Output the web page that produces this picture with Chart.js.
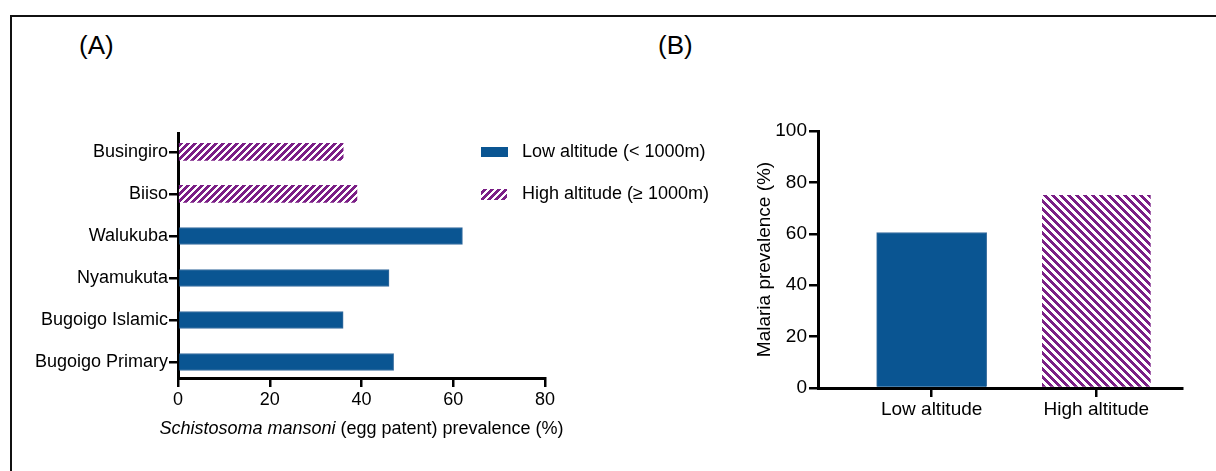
<!DOCTYPE html>
<html>
<head>
<meta charset="utf-8">
<script src="https://cdn.jsdelivr.net/npm/chart.js@4.4.1/dist/chart.umd.min.js"></script>
<style>
  body { margin: 0; background: #fff; }
  #wrap { position: relative; width: 1216px; height: 471px; overflow: hidden; font-family: "Liberation Sans", Arial, sans-serif; }
  #frame { position: absolute; left: 10px; top: 15px; width: 1300px; height: 600px; border-top: 2px solid #111; border-left: 2px solid #111; }
  .panel { position: absolute; top: 30px; font-size: 26px; color: #000; }
  #cA { position: absolute; left: 0; top: 0; }
  #cB { position: absolute; left: 600px; top: 0; }
</style>
</head>
<body>
<div id="wrap">
  <div id="frame"></div>
  <div class="panel" style="left:79px">(A)</div>
  <div class="panel" style="left:658px">(B)</div>
  <canvas id="cB" width="616" height="471"></canvas>
  <canvas id="cA" width="760" height="471"></canvas>
</div>
<script>
// panel A: schisto prevalence by school
var sites = ['Busingiro', 'Biiso', 'Walukuba', 'Nyamukuta', 'Bugoigo Islamic', 'Bugoigo Primary'];
var lowA = [null, null, 62, 46, 36, 47];
var highA = [36, 39, null, null, null, null];
var xTicksA = [0, 20, 40, 60, 80];
var legendA = ['Low altitude (< 1000m)', 'High altitude (\u2265 1000m)'];

// panel B: malaria prevalence
var groupsB = ['Low altitude', 'High altitude'];
var malaria = [60.5, 75.4];
var yTicksB = [0, 20, 40, 60, 80, 100];

var BLUE = '#0a5592';
var PURPLE = '#7b1f86';
var FONT = '"Liberation Sans", Arial, sans-serif';

Chart.defaults.font.family = FONT;
Chart.defaults.color = '#000';

function hatch(period, width, dir) {
    var c = document.createElement('canvas');
    c.width = c.height = period;
    var g = c.getContext('2d');
    var img = g.createImageData(period, period);
    for (var y = 0; y < period; y++) {
        for (var x = 0; x < period; x++) {
            var k = dir > 0 ? (x + y) % period : ((x - y) % period + period) % period;
            var i = (y * period + x) * 4;
            var on = k < width;
            img.data[i] = on ? 0x7b : 255;
            img.data[i + 1] = on ? 0x1f : 255;
            img.data[i + 2] = on ? 0x86 : 255;
            img.data[i + 3] = 255;
        }
    }
    g.putImageData(img, 0, 0);
    return g.createPattern(c, 'repeat');
}

var hatchA = hatch(7, 4, 1);
var hatchB = hatch(8, 4, -1);

function toPoints(vals) {
    var out = [];
    vals.forEach(function (v, i) { if (v != null) out.push({ x: v, y: i }); });
    return out;
}

var axisGrid = { drawOnChartArea: false, offset: false, color: '#000', lineWidth: 2.5, tickLength: 9 };
var axisBorder = { color: '#000', width: 3 };

var extrasA = {
    id: 'extrasA',
    afterDraw: function (chart) {
        var ctx = chart.ctx;
        ctx.save();
        // legend
        ctx.fillStyle = BLUE;
        ctx.fillRect(481, 147, 27, 10);
        ctx.fillStyle = hatchA;
        ctx.fillRect(481, 189, 26, 11);
        ctx.fillStyle = '#000';
        ctx.font = '18px ' + FONT;
        ctx.textBaseline = 'middle';
        ctx.fillText(legendA[0], 522, 152);
        ctx.fillText(legendA[1], 522, 194);
        // axis title with italic species name
        var it = 'Schistosoma mansoni';
        var rest = ' (egg patent) prevalence (%)';
        ctx.font = 'italic 18px ' + FONT;
        var w1 = ctx.measureText(it).width;
        ctx.font = '18px ' + FONT;
        var w2 = ctx.measureText(rest).width;
        var cx = (chart.chartArea.left + chart.chartArea.right) / 2;
        var x0 = cx - (w1 + w2) / 2;
        ctx.font = 'italic 18px ' + FONT;
        ctx.fillText(it, x0, 429);
        ctx.font = '18px ' + FONT;
        ctx.fillText(rest, x0 + w1, 429);
        ctx.restore();
    }
};

new Chart(document.getElementById('cA').getContext('2d'), {
    type: 'bar',
    data: {
        datasets: [
            { data: toPoints(lowA), backgroundColor: BLUE, borderColor: '#3b6fa0', borderWidth: 1 },
            { data: toPoints(highA), backgroundColor: hatchA, borderWidth: 0 }
        ]
    },
    options: {
        indexAxis: 'y',
        responsive: false,
        animation: false,
        events: [],
        grouped: false,
        barThickness: 17,
        layout: { padding: { left: 0, top: 133, right: 215, bottom: 33 } },
        plugins: { legend: { display: false }, tooltip: { enabled: false } },
        scales: {
            x: {
                type: 'linear', min: 0, max: 80,
                afterBuildTicks: function (s) { s.ticks = xTicksA.map(function (v) { return { value: v }; }); },
                afterFit: function (s) { s.height = 60; },
                grid: axisGrid, border: axisBorder,
                ticks: { font: { size: 18 }, padding: 2, maxRotation: 0 }
            },
            y: {
                type: 'linear', reverse: true, min: -0.45, max: 5.38, offset: false,
                afterBuildTicks: function (s) { s.ticks = sites.map(function (c, i) { return { value: i }; }); },
                afterFit: function (s) { s.width = 178; },
                grid: axisGrid, border: axisBorder,
                ticks: { font: { size: 18 }, padding: 1, callback: function (v) { return sites[v]; } }
            }
        }
    },
    plugins: [extrasA]
});

new Chart(document.getElementById('cB').getContext('2d'), {
    type: 'bar',
    data: {
        datasets: [{
            data: malaria.map(function (v, i) { return { x: i, y: v }; }),
            backgroundColor: [BLUE, hatchB],
            borderColor: ['#3b6fa0', 'rgba(0,0,0,0)'],
            borderWidth: 1
        }]
    },
    options: {
        responsive: false,
        animation: false,
        events: [],
        barThickness: 110,
        layout: { padding: { left: 149, top: 131, right: 34, bottom: 33 } },
        plugins: { legend: { display: false }, tooltip: { enabled: false } },
        scales: {
            x: {
                type: 'linear', min: -0.69, max: 1.52, offset: false,
                afterBuildTicks: function (s) { s.ticks = groupsB.map(function (c, i) { return { value: i }; }); },
                afterFit: function (s) { s.height = 50; },
                grid: axisGrid, border: axisBorder,
                ticks: { font: { size: 19 }, padding: 1, maxRotation: 0, callback: function (v) { return groupsB[v]; } }
            },
            y: {
                type: 'linear', min: 0, max: 100,
                afterBuildTicks: function (s) { s.ticks = yTicksB.map(function (v) { return { value: v }; }); },
                afterFit: function (s) { s.width = 69; },
                grid: axisGrid, border: axisBorder,
                ticks: { font: { size: 19 }, padding: 2 },
                title: { display: true, text: 'Malaria prevalence (%)', font: { size: 19 } }
            }
        }
    }
});
</script>
</body>
</html>
